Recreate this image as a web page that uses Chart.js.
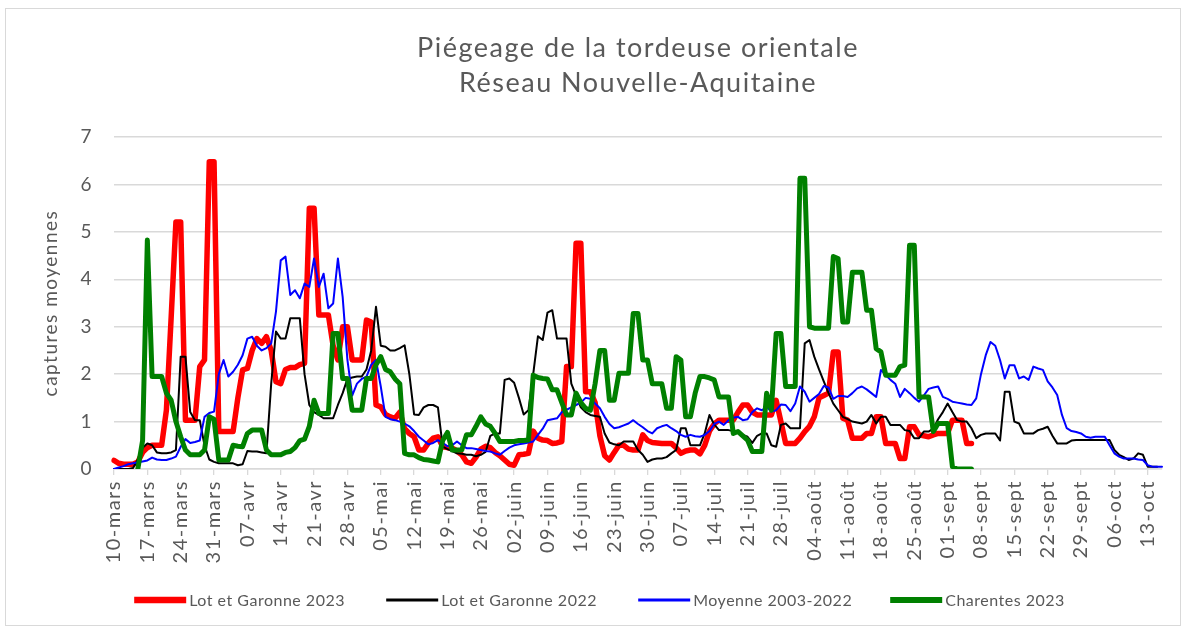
<!DOCTYPE html>
<html lang="fr">
<head>
<meta charset="utf-8">
<title>Piégeage de la tordeuse orientale</title>
<script src="https://cdn.jsdelivr.net/npm/chart.js@4.4.0/dist/chart.umd.min.js"></script>
<style>
  html, body { margin: 0; padding: 0; background: #fff; }
  canvas { display: block; }
</style>
</head>
<body>
<canvas id="chart" width="1187" height="633"></canvas>
<script>
// Daily labels, 10 March to 16 October
const monthNames = ['mars', 'avr', 'mai', 'juin', 'juil', 'août', 'sept', 'oct'];
const monthLengths = [31, 30, 31, 30, 31, 31, 30, 31];
const firstDay = 10;
const dayCount = 221;

const dayLabels = [];
let m = 0, d = firstDay;
for (let i = 0; i < dayCount; i++) {
    dayLabels.push((d < 10 ? '0' : '') + d + '-' + monthNames[m]);
    d++;
    if (d > monthLengths[m]) { d = 1; m++; }
}

const lotGaronne2023 = [
    0.18, 0.12, 0.1, 0.1, 0.1, 0.15, 0.35, 0.45, 0.5, 0.5,
    0.5, 1.24, 3.2, 5.21, 5.21, 1.03, 1.03, 1.03, 2.16, 2.3,
    6.48, 6.48, 0.79, 0.79, 0.79, 0.79, 1.5, 2.09, 2.12, 2.5,
    2.75, 2.65, 2.79, 2.5, 1.84, 1.8, 2.1, 2.14, 2.14, 2.2,
    2.23, 5.5, 5.5, 3.25, 3.25, 3.25, 2.6, 2.3, 3.0, 3.0,
    2.3, 2.3, 2.3, 3.14, 3.1, 1.35, 1.31, 1.15, 1.1, 1.07,
    1.2, 0.85, 0.75, 0.68, 0.4, 0.4, 0.55, 0.65, 0.68, 0.47,
    0.45, 0.44, 0.38, 0.3, 0.15, 0.12, 0.25, 0.42, 0.48, 0.45,
    0.35, 0.28, 0.19, 0.1, 0.08, 0.3, 0.31, 0.33, 0.8, 0.65,
    0.61, 0.6, 0.54, 0.55, 0.58, 2.16, 2.16, 4.76, 4.76, 1.63,
    1.63, 1.4, 0.7, 0.28, 0.19, 0.35, 0.5, 0.5, 0.42, 0.4,
    0.4, 0.72, 0.6, 0.56, 0.55, 0.54, 0.54, 0.54, 0.45, 0.33,
    0.38, 0.4, 0.4, 0.32, 0.5, 0.8, 0.95, 1.03, 1.03, 1.03,
    1.03, 1.2, 1.35, 1.35, 1.2, 1.14, 1.14, 1.14, 1.14, 1.45,
    1.0, 0.54, 0.54, 0.54, 0.65, 0.79, 0.9, 1.1, 1.5, 1.55,
    1.6, 2.47, 2.47, 1.07, 1.03, 0.65, 0.65, 0.65, 0.75, 0.75,
    1.1, 1.1, 0.54, 0.54, 0.54, 0.22, 0.22, 0.89, 0.89, 0.72,
    0.7, 0.68, 0.72, 0.75, 0.75, 0.75, 1.03, 1.03, 1.03, 0.54,
    0.54
];

const lotGaronne2022 = [
    0, 0, 0, 0, 0.02, 0.2, 0.45, 0.54, 0.5, 0.35,
    0.33, 0.33, 0.35, 0.4, 2.37, 2.37, 1.2, 1.03, 1.03, 0.5,
    0.2, 0.15, 0.12, 0.12, 0.12, 0.12, 0.08, 0.1, 0.38, 0.37,
    0.37, 0.35, 0.33, 1.8, 2.9, 2.75, 2.75, 3.18, 3.18, 3.18,
    2.0, 1.35, 1.2, 1.14, 1.07, 1.07, 1.07, 1.35, 1.6, 1.9,
    1.93, 1.95, 1.95, 2.1, 2.5, 3.42, 2.6, 2.58, 2.5, 2.5,
    2.55, 2.61, 2.0, 1.15, 1.14, 1.3, 1.35, 1.35, 1.3, 0.47,
    0.42, 0.38, 0.33, 0.32, 0.3, 0.3, 0.27, 0.3, 0.36, 0.7,
    0.75, 0.75, 1.88, 1.91, 1.82, 1.5, 1.15, 1.24, 2.0, 2.8,
    2.72, 3.3, 3.35, 2.75, 2.75, 2.75, 1.8, 1.55, 1.3, 1.2,
    1.14, 1.12, 1.1, 0.75, 0.56, 0.52, 0.5, 0.58, 0.58, 0.58,
    0.4, 0.3, 0.15, 0.2, 0.22, 0.22, 0.25, 0.33, 0.4, 0.86,
    0.86, 0.5, 0.5, 0.5, 0.75, 1.14, 0.94, 0.82, 0.82, 0.82,
    0.8, 0.78, 0.72, 0.68, 0.55, 0.7, 0.75, 0.75, 0.5, 0.47,
    0.93, 0.96, 0.86, 0.86, 0.86, 2.65, 2.72, 2.37, 2.1, 1.85,
    1.6, 1.38, 1.24, 1.1, 1.05, 1.0, 0.98, 0.96, 1.0, 1.14,
    0.96, 1.1, 1.1, 0.93, 0.93, 0.93, 0.82, 0.8, 0.65, 0.65,
    0.79, 0.79, 0.85, 1.05, 1.2, 1.38, 1.2, 1.03, 1.0, 1.0,
    0.86, 0.65, 0.72, 0.75, 0.75, 0.75, 0.6, 1.63, 1.63, 1.0,
    0.96, 0.75, 0.75, 0.75, 0.82, 0.85, 0.89, 0.7, 0.54, 0.54,
    0.54, 0.6, 0.61, 0.61, 0.61, 0.61, 0.61, 0.61, 0.61, 0.61,
    0.4, 0.3, 0.25, 0.19, 0.22, 0.33, 0.3, 0.05, 0.05, 0.05
];

const moyenne2003_2022 = [
    0, 0.03, 0.06, 0.1, 0.12, 0.14, 0.16, 0.18, 0.24, 0.2,
    0.19, 0.19, 0.22, 0.26, 0.47, 0.63, 0.55, 0.57, 0.6, 1.1,
    1.18, 1.21, 2.0, 2.3, 1.95, 2.05, 2.2, 2.4, 2.75, 2.79,
    2.6, 2.5, 2.55, 2.65, 3.32, 4.4, 4.48, 3.67, 3.77, 3.6,
    3.91, 3.84, 4.44, 3.84, 4.12, 3.39, 3.49, 4.44, 3.63, 2.3,
    1.55, 1.8, 1.9, 1.95, 2.2, 2.3, 1.74, 1.1, 1.05, 1.03,
    1.0, 0.96, 0.9, 0.8, 0.68, 0.6, 0.52, 0.55, 0.61, 0.55,
    0.48, 0.5, 0.58, 0.5, 0.44, 0.44, 0.42, 0.4, 0.38, 0.37,
    0.33, 0.3, 0.38, 0.45, 0.5, 0.52, 0.54, 0.56, 0.58, 0.72,
    0.85, 1.03, 1.05, 1.07, 1.2, 1.25, 1.3, 1.35, 1.4, 1.5,
    1.48, 1.38, 1.28, 1.1, 0.95, 0.86, 0.88, 0.92, 0.96, 1.03,
    0.95, 0.88, 0.8, 0.75, 0.86, 0.9, 0.93, 0.86, 0.8, 0.72,
    0.68, 0.72, 0.69, 0.68, 0.72, 0.8, 0.95, 1.0, 0.93, 1.03,
    1.08, 1.1, 1.03, 1.05, 1.2, 1.28, 1.24, 1.31, 1.21, 1.24,
    1.36, 1.35, 1.22, 1.38, 1.74, 1.63, 1.42, 1.5, 1.58, 1.75,
    1.72, 1.48, 1.54, 1.54, 1.52, 1.6, 1.7, 1.74, 1.68, 1.6,
    1.52, 2.09, 1.98, 1.88, 1.8, 1.52, 1.69, 1.6, 1.5, 1.42,
    1.55, 1.69, 1.72, 1.74, 1.52, 1.48, 1.42, 1.4, 1.38, 1.36,
    1.35, 1.49, 2.0, 2.4, 2.68, 2.6, 2.3, 1.91, 2.19, 2.19,
    1.91, 1.95, 1.88, 2.16, 2.12, 2.09, 1.85, 1.72, 1.56, 1.14,
    0.86, 0.8, 0.78, 0.75, 0.68, 0.66, 0.68, 0.68, 0.68, 0.5,
    0.33, 0.26, 0.22, 0.22, 0.22, 0.2, 0.19, 0.08, 0.05, 0.05,
    0.05
];

const charentes2023 = [
    null, null, null, null, null, 0, 0.6, 4.83, 1.95, 1.95,
    1.95, 1.6, 1.45, 1.0, 0.68, 0.4, 0.3, 0.3, 0.3, 0.4,
    1.1, 1.05, 0.19, 0.19, 0.19, 0.5, 0.48, 0.47, 0.75, 0.82,
    0.82, 0.82, 0.4, 0.3, 0.3, 0.3, 0.35, 0.37, 0.45, 0.6,
    0.63, 0.9, 1.45, 1.17, 1.17, 1.17, 2.86, 2.86, 1.91, 1.91,
    1.24, 1.24, 1.24, 1.91, 1.91, 2.2, 2.37, 2.1, 2.05, 1.9,
    1.8, 0.33, 0.3, 0.3, 0.24, 0.2, 0.19, 0.17, 0.15, 0.6,
    0.77, 0.4, 0.4, 0.4, 0.72, 0.72, 0.9, 1.1, 0.95, 0.9,
    0.75, 0.58, 0.58, 0.58, 0.58, 0.6, 0.6, 0.61, 1.98, 1.93,
    1.91, 1.9, 1.67, 1.67, 1.4, 1.14, 1.14, 1.6, 1.4, 1.28,
    1.24, 1.8, 2.5, 2.5, 1.45, 1.45, 2.02, 2.02, 2.02, 3.28,
    3.28, 2.3, 2.3, 1.8, 1.8, 1.8, 1.28, 1.28, 2.37, 2.3,
    1.1, 1.1, 1.6, 1.95, 1.95, 1.92, 1.88, 1.52, 1.52, 1.52,
    0.75, 0.79, 0.7, 0.61, 0.37, 0.37, 0.37, 1.6, 1.24, 2.86,
    2.86, 1.74, 1.74, 1.74, 6.13, 6.13, 3.0, 2.97, 2.97, 2.97,
    2.97, 4.48, 4.44, 3.1, 3.1, 4.15, 4.15, 4.15, 3.35, 3.35,
    2.54, 2.47, 1.98, 1.98, 1.98, 2.16, 2.19, 4.72, 4.72, 1.52,
    1.52, 1.52, 0.79, 0.96, 0.96, 0.96, 0.05, 0, 0, 0,
    0
];

const seriesNames = ['Lot et Garonne 2023', 'Lot et Garonne 2022', 'Moyenne 2003-2022', 'Charentes 2023'];
const seriesColors = ['#ff0000', '#000000', '#0000ff', '#008000'];

const textColor = '#595959';
const gridColor = '#d9d9d9';
const fontFamily = 'Lato, "Open Sans", sans-serif';

// white page with a thin grey frame; the axis texts get a little tracking
const frame = {
    id: 'frame',
    beforeDraw(chart) {
        const ctx = chart.ctx;
        ctx.save();
        ctx.fillStyle = '#ffffff';
        ctx.fillRect(0, 0, chart.width, chart.height);
        ctx.strokeStyle = gridColor;
        ctx.lineWidth = 1;
        ctx.strokeRect(5.5, 8.5, chart.width - 12, chart.height - 16);
        ctx.restore();
        ctx.letterSpacing = '1.5px';
    }
};

// legend row under the axis, one fixed-width slot per series
const bottomLegend = {
    id: 'bottomLegend',
    afterDraw(chart) {
        const ctx = chart.ctx;
        const sets = chart.data.datasets;
        const slot = 252, sample = 52, gap = 3;
        ctx.save();
        ctx.letterSpacing = '0.5px';
        ctx.font = '16px ' + fontFamily;
        ctx.textBaseline = 'middle';
        const lastWidth = sample + gap + ctx.measureText(sets[sets.length - 1].label).width;
        let x = chart.width / 2 - ((sets.length - 1) * slot + lastWidth) / 2 + 6;
        const y = 600;
        sets.forEach(function (ds) {
            ctx.strokeStyle = ds.borderColor;
            ctx.lineWidth = ds.borderWidth + 1;
            ctx.beginPath();
            ctx.moveTo(x, y);
            ctx.lineTo(x + sample, y);
            ctx.stroke();
            ctx.fillStyle = textColor;
            ctx.fillText(ds.label, x + sample + gap, y + 1);
            x += slot;
        });
        ctx.restore();
        ctx.letterSpacing = '0px';
    }
};

const seriesData = [lotGaronne2023, lotGaronne2022, moyenne2003_2022, charentes2023];
const seriesWidths = [5.5, 2, 2, 5];

new Chart(document.getElementById('chart'), {
    type: 'line',
    data: {
        labels: dayLabels,
        datasets: seriesData.map(function (values, i) {
            return {
                label: seriesNames[i],
                data: values,
                borderColor: seriesColors[i],
                backgroundColor: seriesColors[i],
                borderWidth: seriesWidths[i],
                order: seriesData.length - 1 - i,
                fill: false
            };
        })
    },
    options: {
        responsive: false,
        animation: false,
        layout: { padding: { left: 8, right: 25, top: 8, bottom: 69 } },
        elements: {
            point: { radius: 0 },
            line: { tension: 0, borderJoinStyle: 'round', borderCapStyle: 'round' }
        },
        plugins: {
            legend: { display: false },
            tooltip: { enabled: false },
            title: {
                display: true,
                fullSize: false,
                text: ['Piégeage de la tordeuse orientale', 'Réseau Nouvelle-Aquitaine'],
                color: textColor,
                font: { family: fontFamily, size: 27, weight: 'normal', lineHeight: 1.28 },
                padding: { top: 23, bottom: 37 }
            }
        },
        scales: {
            x: {
                offset: false,
                grid: { drawOnChartArea: false, drawTicks: true, tickLength: 6, color: gridColor, lineWidth: 1.3 },
                border: { color: gridColor, width: 1.5 },
                ticks: {
                    autoSkip: false,
                    minRotation: 90,
                    maxRotation: 90,
                    padding: 5,
                    color: textColor,
                    font: { family: fontFamily, size: 20 },
                    callback: function (value, index) {
                        return index % 7 === 0 ? dayLabels[index] : null;
                    }
                },
                afterFit: function (scale) { scale.height = 95; }
            },
            y: {
                min: 0,
                max: 7,
                ticks: { stepSize: 1, padding: 21, color: textColor, font: { family: fontFamily, size: 19 } },
                grid: { color: gridColor, lineWidth: 1.5, drawTicks: false },
                border: { display: false },
                title: {
                    display: true,
                    text: 'captures moyennes',
                    color: textColor,
                    font: { family: fontFamily, size: 19 },
                    padding: { top: 31, bottom: 0 }
                },
                afterFit: function (scale) { scale.width = 106; }
            }
        }
    },
    plugins: [frame, bottomLegend]
});
</script>
</body>
</html>
